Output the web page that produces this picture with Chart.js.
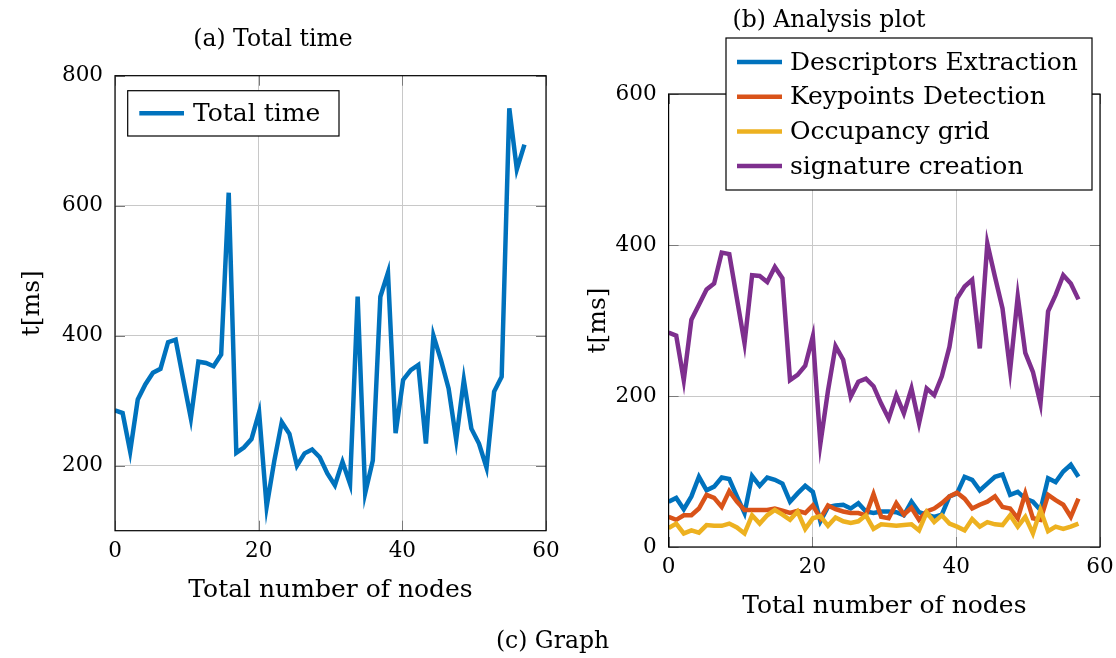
<!DOCTYPE html>
<html>
<head>
<meta charset="utf-8">
<script src="https://cdn.jsdelivr.net/npm/chart.js@4"></script>
<style>
  html, body { margin: 0; padding: 0; background: #fff; }
  #wrap { position: relative; width: 1116px; height: 658px; overflow: hidden; background: #fff; }
  canvas { position: absolute; top: 0; }
  #left { left: 0; }
  #right { left: 558px; }
  #caption { position: absolute; left: 0; width: 1105px; top: 626px; line-height: 28px;
             text-align: center; font: 23.5px "DejaVu Serif"; color: #000; }
</style>
</head>
<body>
<div id="wrap">
  <canvas id="left" width="575" height="658"></canvas>
  <canvas id="right" width="558" height="658"></canvas>
  <div id="caption">(c) Graph</div>
</div>
<script>
// Number of nodes in the graph at each measurement
const nodes = [0, 1.06, 2.11, 3.17, 4.22, 5.28, 6.33, 7.39, 8.44, 9.5, 10.56, 11.61, 12.67, 13.72,
  14.78, 15.83, 16.89, 17.94, 19, 20.06, 21.11, 22.17, 23.22, 24.28, 25.33, 26.39, 27.44, 28.5,
  29.56, 30.61, 31.67, 32.72, 33.78, 34.83, 35.89, 36.94, 38, 39.06, 40.11, 41.17, 42.22, 43.28,
  44.33, 45.39, 46.44, 47.5, 48.56, 49.61, 50.67, 51.72, 52.78, 53.83, 54.89, 55.94, 57];

// (a) total processing time [ms]
const totalTime = [285, 281, 222, 302, 325, 343, 349, 390, 394, 333, 273, 360, 358, 353, 371, 620,
  220, 228, 241, 282, 137, 207, 267, 249, 200, 219, 225, 213, 188, 170, 206, 172, 460, 158, 208,
  460, 497, 250, 332, 347, 355, 234, 400, 362, 319, 240, 332, 257, 234, 197, 314, 337, 750, 656, 694];

// (b) per-stage times [ms]
const descriptorsExtraction = [60, 65, 50, 67, 93, 75, 80, 92, 90, 67, 45, 94, 81, 92, 89, 84, 60,
  71, 81, 73, 34, 53, 55, 56, 51, 58, 47, 45, 47, 47, 46, 42, 60, 46, 43, 40, 43, 67, 71, 93, 89,
  75, 84, 93, 96, 69, 73, 64, 60, 49, 91, 86, 100, 109, 93];
const keypointsDetection = [40, 36, 42, 42, 51, 69, 65, 53, 74, 60, 49, 49, 49, 49, 51, 48, 45, 48,
  45, 55, 38, 55, 50, 47, 45, 45, 42, 70, 40, 38, 58, 43, 52, 36, 47, 51, 58, 67, 72, 64, 51, 56,
  60, 67, 53, 51, 38, 71, 38, 36, 69, 62, 56, 40, 64];
const occupancyGrid = [25, 31, 18, 22, 19, 29, 28, 28, 31, 26, 18, 42, 31, 42, 49, 43, 36, 47, 24,
  38, 41, 28, 39, 34, 32, 34, 42, 24, 30, 29, 28, 29, 30, 22, 46, 33, 42, 31, 27, 22, 37, 27, 33,
  30, 29, 42, 27, 40, 18, 49, 21, 27, 24, 27, 31];
const signatureCreation = [284, 280, 221, 301, 321, 341, 349, 390, 388, 329, 270, 360, 359, 351,
  371, 356, 221, 228, 240, 279, 137, 207, 266, 248, 199, 219, 223, 213, 190, 170, 201, 177, 210,
  164, 210, 201, 226, 265, 329, 345, 354, 263, 402, 358, 316, 234, 332, 257, 232, 190, 312, 334,
  360, 349, 328];

// Axis tick values
const xTicks = [0, 20, 40, 60];
const yTicksTotal = [200, 400, 600, 800];
const yTicksStages = [0, 200, 400, 600];

const SERIF = '"DejaVu Serif", "Liberation Serif", serif';
const COLORS = { blue: '#0072BD', orange: '#D95319', yellow: '#EDB120', purple: '#7E2F8E' };

function points(ys) { return ys.map((y, i) => ({ x: nodes[i], y })); }
function fixedTicks(values) { return scale => { scale.ticks = values.map(v => ({ value: v })); }; }

// Axis frame with short inward tick marks on all four sides
const framePlugin = {
  id: 'frame',
  afterDatasetsDraw(chart) {
    const { ctx, chartArea: a, scales } = chart;
    ctx.save();
    ctx.strokeStyle = '#7a7a7a';
    ctx.lineWidth = 1;
    const len = 10;
    ctx.beginPath();
    scales.y.ticks.forEach(t => {
      const py = Math.round(scales.y.getPixelForValue(t.value)) + 0.5;
      ctx.moveTo(a.left, py); ctx.lineTo(a.left + len, py);
      ctx.moveTo(a.right, py); ctx.lineTo(a.right - len, py);
    });
    scales.x.ticks.forEach(t => {
      const px = Math.round(scales.x.getPixelForValue(t.value)) + 0.5;
      ctx.moveTo(px, a.bottom); ctx.lineTo(px, a.bottom - len);
      ctx.moveTo(px, a.top); ctx.lineTo(px, a.top + len);
    });
    ctx.stroke();
    ctx.strokeStyle = '#000';
    ctx.lineWidth = 1.2;
    ctx.strokeRect(a.left, a.top, a.right - a.left, a.bottom - a.top);
    ctx.restore();
  }
};

// Framed legend placed at a fixed spot of the canvas
function boxLegend(box) {
  return {
    id: 'boxLegend',
    afterDraw(chart) {
      const ctx = chart.ctx;
      ctx.save();
      ctx.fillStyle = '#fff';
      ctx.fillRect(box.x, box.y, box.w, box.h);
      ctx.strokeStyle = '#000';
      ctx.lineWidth = 1.2;
      ctx.strokeRect(box.x, box.y, box.w, box.h);
      ctx.font = '25px ' + SERIF;
      ctx.textBaseline = 'middle';
      ctx.textAlign = 'left';
      chart.data.datasets.forEach((ds, i) => {
        const cy = box.y + box.rowTop + i * box.rowH;
        ctx.strokeStyle = ds.borderColor;
        ctx.lineWidth = ds.borderWidth;
        ctx.beginPath();
        ctx.moveTo(box.x + box.line0, cy);
        ctx.lineTo(box.x + box.line1, cy);
        ctx.stroke();
        ctx.fillStyle = '#000';
        ctx.fillText(ds.label, box.x + box.textX, cy + 1);
      });
      ctx.restore();
    }
  };
}

function lineDataset(label, ys, color, order) {
  return {
    label, data: points(ys), borderColor: color, backgroundColor: color,
    borderWidth: 4.5, pointRadius: 0, tension: 0, fill: false, order,
    borderJoinStyle: 'miter', borderCapStyle: 'butt'
  };
}

function makeOptions(cfg) {
  return {
    responsive: false,
    animation: false,
    devicePixelRatio: 1,
    layout: { padding: cfg.padding },
    plugins: {
      legend: { display: false },
      tooltip: { enabled: false },
      title: {
        display: true, text: cfg.title, color: '#000',
        font: { family: SERIF, size: 23.5, weight: 'normal' },
        padding: cfg.titlePadding
      }
    },
    scales: {
      x: {
        type: 'linear', min: 0, max: 60,
        afterBuildTicks: fixedTicks(xTicks),
        // fixed axis band; end labels may overhang into the page margin
        afterFit: s => { s.height = cfg.xHeight; s.paddingLeft = 0; s.paddingRight = 0; },
        ticks: { color: '#000', font: { family: SERIF, size: 21.5 }, padding: 8, maxRotation: 0, autoSkip: false },
        grid: { color: '#c8c8c8', lineWidth: 1, drawTicks: false },
        border: { display: false },
        title: { display: true, text: 'Total number of nodes', color: '#000',
                 font: { family: SERIF, size: 25 }, padding: { top: 0, bottom: 0 } }
      },
      y: {
        type: 'linear', min: cfg.yMin, max: cfg.yMax,
        afterBuildTicks: fixedTicks(cfg.yTicks),
        afterFit: s => { s.width = cfg.yWidth; },
        ticks: { color: '#000', font: { family: SERIF, size: 21.5 }, padding: 12 },
        grid: { color: '#c8c8c8', lineWidth: 1, drawTicks: false },
        border: { display: false },
        title: { display: true, text: 't[ms]', color: '#000',
                 font: { family: SERIF, size: 25 }, padding: { top: cfg.yTitlePad, bottom: 0 } }
      }
    }
  };
}

new Chart(document.getElementById('left'), {
  type: 'line',
  data: { datasets: [lineDataset('Total time', totalTime, COLORS.blue, 1)] },
  options: makeOptions({
    title: '(a) Total time',
    padding: { left: 0, right: 29, top: 0, bottom: 53 },
    titlePadding: { top: 26, bottom: 21.5 },
    xHeight: 74.3, yWidth: 115, yTitlePad: 17,
    yMin: 100, yMax: 800, yTicks: yTicksTotal
  }),
  plugins: [framePlugin, boxLegend({ x: 127.7, y: 90.7, w: 211.3, h: 45.3, rowTop: 22.6, rowH: 0,
                                     line0: 11.6, line1: 56.3, textX: 65.3 })]
});

new Chart(document.getElementById('right'), {
  type: 'line',
  data: {
    datasets: [
      lineDataset('Descriptors Extraction', descriptorsExtraction, COLORS.blue, 4),
      lineDataset('Keypoints Detection', keypointsDetection, COLORS.orange, 3),
      lineDataset('Occupancy grid', occupancyGrid, COLORS.yellow, 2),
      lineDataset('signature creation', signatureCreation, COLORS.purple, 1)
    ]
  },
  options: makeOptions({
    title: '(b) Analysis plot',
    padding: { left: 0, right: 16, top: 0, bottom: 37 },
    titlePadding: { top: 7, bottom: 58.8 },
    xHeight: 74, yWidth: 110.6, yTitlePad: 25,
    yMin: 0, yMax: 600, yTicks: yTicksStages
  }),
  plugins: [framePlugin, boxLegend({ x: 168, y: 38, w: 366, h: 152, rowTop: 24, rowH: 34.7,
                                     line0: 11, line1: 56, textX: 64 })]
});
</script>
</body>
</html>
